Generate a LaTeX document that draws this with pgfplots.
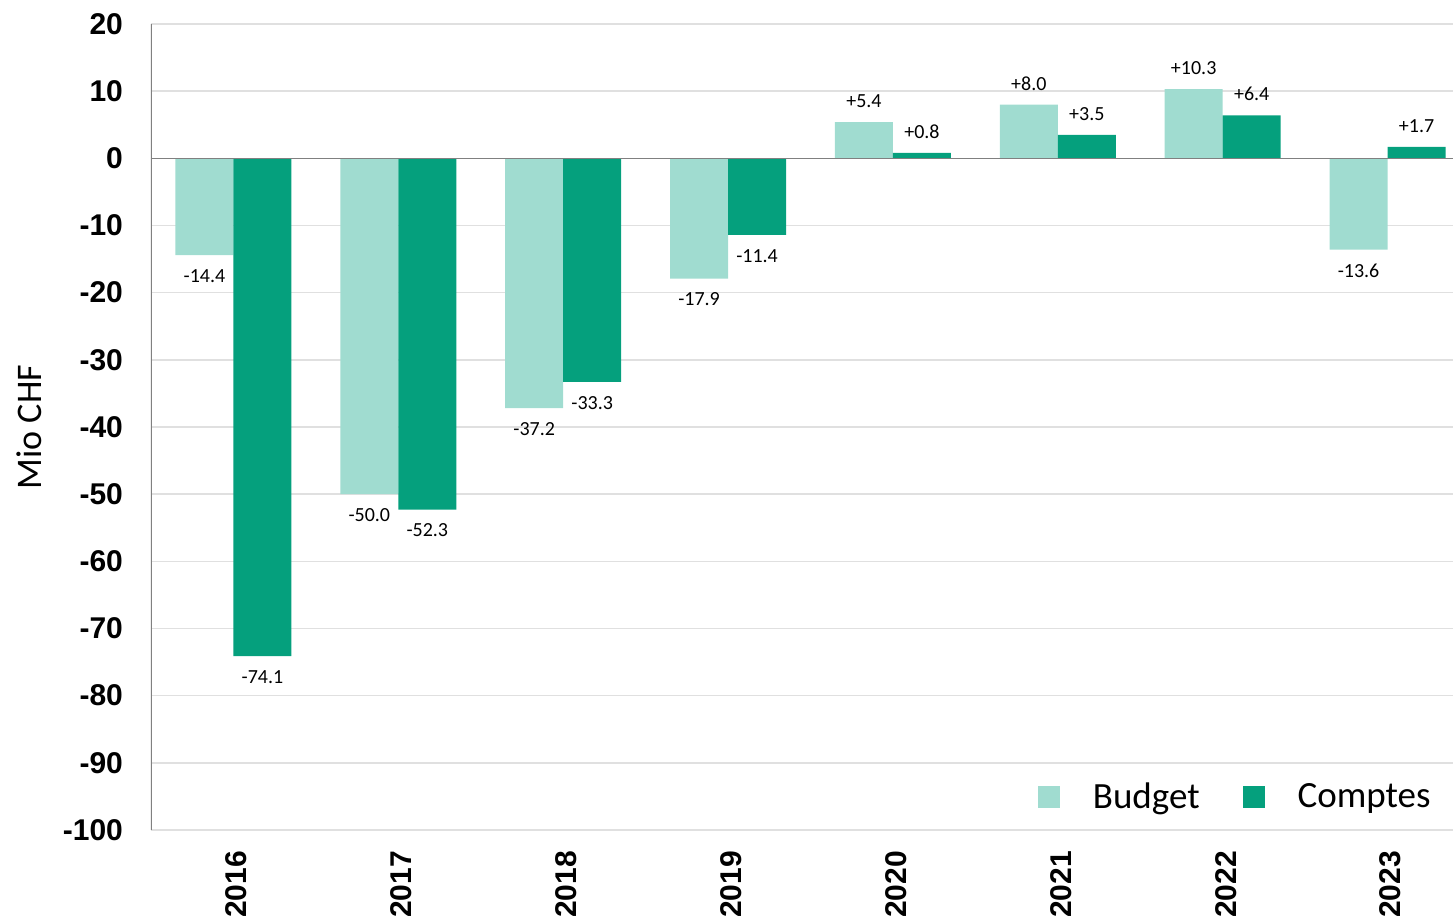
\documentclass[border=0pt]{standalone}
\usepackage{pgfplots}
\pgfplotsset{compat=1.18}
\usepackage{fontspec}
\setmainfont{Carlito}
\newfontfamily\arialfont{Liberation Sans}
\definecolor{cbud}{HTML}{A0DCD0}
\definecolor{ccom}{HTML}{05A07D}
\begin{document}
\begin{tikzpicture}[x=1pt,y=1pt]
\useasboundingbox (-75.5,-45) rectangle (651,415);
\begin{axis}[at={(0,0)}, anchor=south west, scale only axis,
  width=659.5pt, height=403pt,
  ybar=0pt, bar width=29pt,
  xmin=-0.5, xmax=7.5, ymin=-100, ymax=20,
  xtick={0,1,2,3,4,5,6,7},
  xticklabels={2016,2017,2018,2019,2020,2021,2022,2023},
  ytick={-100,-90,-80,-70,-60,-50,-40,-30,-20,-10,0,10,20},
  /pgf/number format/assume math mode=true,
  major tick length=0pt, tick style={draw=none},
  axis line style={draw=none},
  ymajorgrids, grid style={color=black!12, line width=0.7pt},
  ticklabel style={font=\arialfont\bfseries\fontsize{15}{18}\selectfont},
  yticklabel style={anchor=east, xshift=-10.5pt},
  xticklabel style={rotate=90, anchor=east, xshift=-7pt, yshift=-1.5pt},
  ylabel={Mio CHF},
  ylabel style={at={(axis description cs:0,0.5)}, anchor=center, yshift=61pt, font=\fontsize{18}{22}\selectfont},
  nodes near coords={\pgfmathprintnumber[fixed,fixed zerofill,precision=1,showpos]{\pgfplotspointmeta}},
  every node near coord/.append style={font=\fontsize{10}{12}\selectfont, inner ysep=7pt, text=black},
  legend style={draw=none, fill=none, at={(rel axis cs:0.978,0.041)}, anchor=east,
    font=\fontsize{18.5}{22}\selectfont, legend columns=2,
    /tikz/every even column/.append style={column sep=19.5pt},
    /tikz/every odd column/.append style={column sep=14.5pt}},
  legend image code/.code={\fill[#1,draw=none] (0pt,-5.5pt) rectangle (11pt,5.5pt);},
]
\addplot[fill=cbud, draw=none] coordinates {(0,-14.4) (1,-50.0) (2,-37.2) (3,-17.9) (4,5.4) (5,8.0) (6,10.3) (7,-13.6)};
\addplot[fill=ccom, draw=none] coordinates {(0,-74.1) (1,-52.3) (2,-33.3) (3,-11.4) (4,0.8) (5,3.5) (6,6.4) (7,1.7)};
\legend{Budget,Comptes}
\draw[black!50, line width=0.8pt] (axis cs:-0.5,0) -- (axis cs:7.5,0);
\draw[black!50, line width=0.8pt] (rel axis cs:0,0) -- (rel axis cs:0,1);
\end{axis}
\end{tikzpicture}
\end{document}
